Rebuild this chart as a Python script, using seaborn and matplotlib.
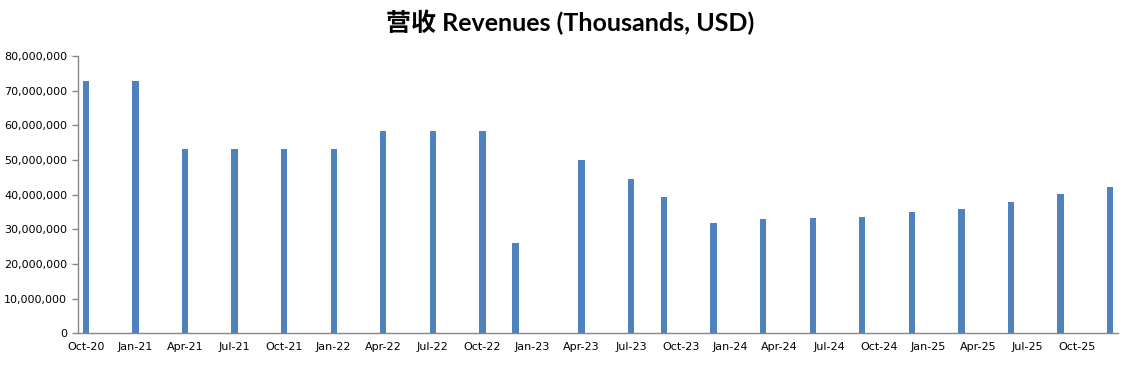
import numpy as np
import pandas as pd
import matplotlib
matplotlib.use("Agg")
import matplotlib.pyplot as plt
import seaborn as sns
from matplotlib.ticker import FuncFormatter, FixedLocator

# monthly slots from Oct-20 to Dec-25, bars only on reported months
months = pd.period_range("2020-10", "2025-12", freq="M")
month_labels = [m.strftime("%b-%y") for m in months]

report_months = ["Oct-20", "Jan-21", "Apr-21", "Jul-21", "Oct-21", "Jan-22",
                 "Apr-22", "Jul-22", "Oct-22", "Dec-22", "Apr-23", "Jul-23",
                 "Sep-23", "Dec-23", "Mar-24", "Jun-24", "Sep-24", "Dec-24",
                 "Mar-25", "Jun-25", "Sep-25", "Dec-25"]
revenues = [72.9e6, 72.9e6, 53.3e6, 53.3e6, 53.3e6, 53.3e6,
            58.4e6, 58.4e6, 58.4e6, 26.1e6, 50.0e6, 44.6e6,
            39.3e6, 31.8e6, 33.0e6, 33.3e6, 33.6e6, 35.0e6,
            35.9e6, 37.9e6, 40.2e6, 42.3e6]

tick_labels = month_labels[::3]

bar_color = "#4F81BD"
axis_color = "#868686"

df = pd.DataFrame({"month": report_months, "revenue": revenues})

sns.set_style("white")
plt.rcParams["font.family"] = ["DejaVu Sans", "Noto Sans CJK SC"]

fig = plt.figure(figsize=(11.33, 3.69), dpi=100)
ax = fig.add_axes([0.0686, 0.0967, 0.9184, 0.7515])

sns.barplot(data=df, x="month", y="revenue", order=month_labels,
            color=bar_color, saturation=1, width=0.38, linewidth=0, ax=ax)

ax.set_xlim(-0.5, len(month_labels) - 0.5)
ax.set_ylim(0, 80e6)
ax.set_yticks(np.arange(0, 80e6 + 1, 10e6))
ax.yaxis.set_major_formatter(FuncFormatter(lambda v, p: f"{int(v):,}"))

# labels sit on month slots, tick marks between slots
ax.set_xticks(range(0, len(month_labels), 3))
ax.set_xticklabels(tick_labels)
ax.xaxis.set_minor_locator(FixedLocator(np.arange(-0.5, len(month_labels), 3)))
ax.tick_params(axis="x", which="major", length=0, pad=6, labelsize=8, colors="black")
ax.tick_params(axis="x", which="minor", length=4, width=1, color=axis_color, direction="out")
ax.tick_params(axis="y", length=4, width=1, color=axis_color, direction="out",
               labelsize=8, labelcolor="black", left=True)

for side in ["top", "right"]:
    ax.spines[side].set_visible(False)
for side in ["left", "bottom"]:
    ax.spines[side].set_color(axis_color)
    ax.spines[side].set_linewidth(1)

ax.set_xlabel("")
ax.set_ylabel("")

fig.suptitle("营收 Revenues (Thousands, USD)", x=0.503, y=0.975, color="black",
             fontsize=18, fontweight="bold", family=["Lato", "Noto Sans CJK SC"])

plt.savefig("out.png", dpi=100)
plt.close()
